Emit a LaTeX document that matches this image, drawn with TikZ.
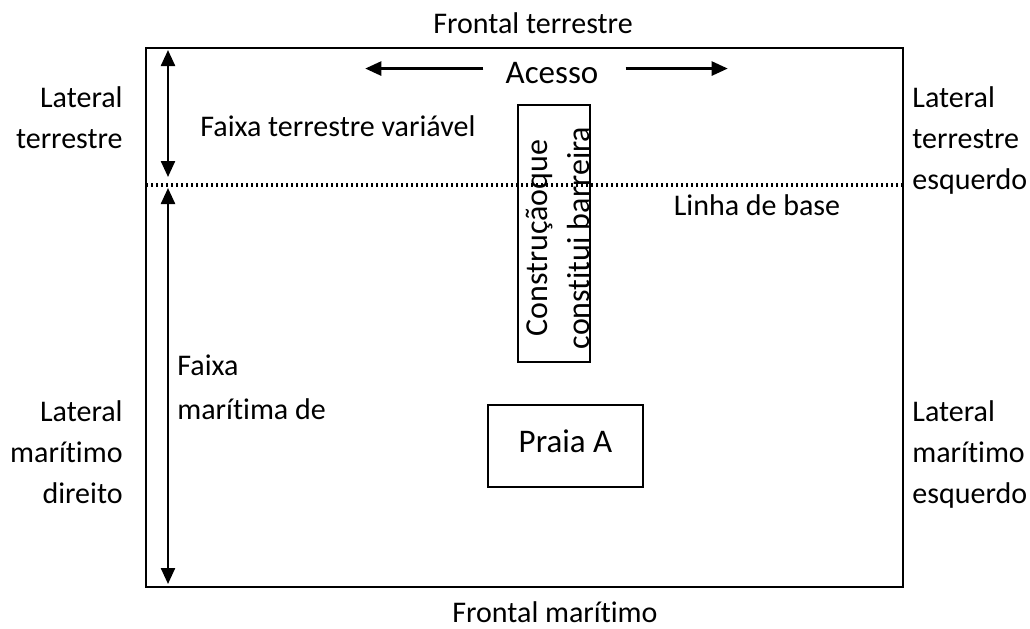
\documentclass[tikz,border=0pt]{standalone}
\usepackage{fontspec}
\setmainfont[Ligatures=CommonOff]{Carlito}
\usetikzlibrary{arrows.meta}
\begin{document}
\begin{tikzpicture}[x=.5pt, y=-.5pt, >={Triangle[width=7pt,length=8pt]},
    txt/.style={font=\fontsize{15}{20.5}\selectfont, inner sep=0pt},
    grande/.style={font=\fontsize{16.5}{21}\selectfont, inner sep=0pt},
    caixa/.style={draw, line width=1.2pt, inner sep=0pt}]
\useasboundingbox (0,0) rectangle (1030,628);
% terreno
\draw[line width=1.2pt](146,48)rectangle(903,587);
\draw[line width=1.6pt, dash pattern=on 1.2pt off 1.3pt](146,185)--(903,185);
% titulos
\node[txt, anchor=base] (fterr) at (533,33) {Frontal terrestre};
\node[txt, anchor=base] (fmar) at (555,622) {Frontal marítimo};
\node[txt, align=right, anchor=north east] (ldt) at (123,86) {Lateral\\terrestre};
\node[txt, align=left, anchor=north west] (let) at (912,86) {Lateral\\terrestre\\esquerdo};
\node[txt, align=right, anchor=north east] (lmd) at (123,400) {Lateral\\marítimo\\direito};
\node[txt, align=left, anchor=north west] (lme) at (912,400) {Lateral\\marítimo\\esquerdo};
% acesso
\node[grande, anchor=base] (acesso) at (552,83) {Acesso};
\draw[->, line width=1.2pt]([xshift=-11pt,yshift=2pt]acesso.west)--++(-118,0)coordinate(aesq);
\draw[->, line width=1.2pt]([xshift=13.5pt,yshift=2pt]acesso.east)--++(102,0)coordinate(adir);
% faixas
\coordinate (t1) at (168,50);
\coordinate (t2) at (168,177);
\coordinate (m1) at (168,188);
\coordinate (m2) at (168,584);
\draw[<->, line width=1.2pt](t1)--(t2);
\draw[<->, line width=1.2pt](m1)--(m2);
\node[txt, anchor=base west] (fterv) at (200,136) {Faixa terrestre variável};
\node[txt, align=left, anchor=north west, font=\fontsize{15}{22}\selectfont] (fmard) at (177,354) {Faixa\\marítima de};
\node[txt, anchor=base] (lbase) at (757,215) {Linha de base};
% construcao e praia
\node[caixa, minimum width=36pt, minimum height=128.5pt] (constr) at (554,233.5) {};
\node[rotate=90, align=center, inner sep=0pt, font=\fontsize{16}{21}\selectfont] (constrtxt) at (558,238) {Construçãoque\\constitui barreira};
\node[caixa, grande, text depth=5pt, minimum width=77.5pt, minimum height=41pt] (praia) at (565.5,446) {Praia A};
\end{tikzpicture}
\end{document}
